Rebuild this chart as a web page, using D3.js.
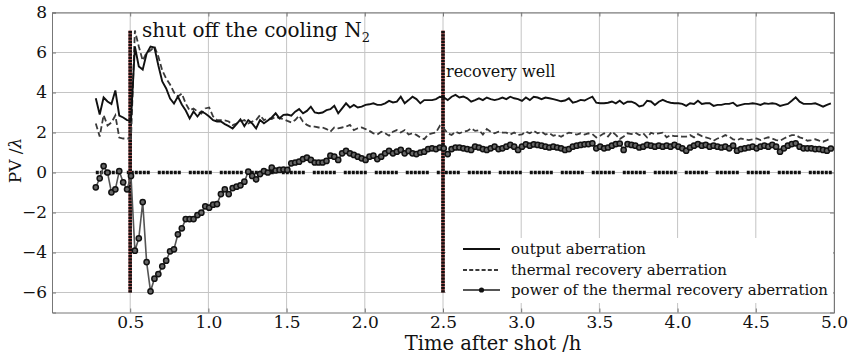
<!DOCTYPE html>
<html><head><meta charset="utf-8">
<script src="https://cdn.jsdelivr.net/npm/d3@7"></script>
<style>body{margin:0;background:#fff}svg{display:block}text{font-family:"DejaVu Serif",serif;fill:#111}</style>
</head><body><div id="chart"></div>
<script>
// sampling: first time (h) and step (h)
const tStart = 0.28, tStep = 0.025;
const outputAberration = [3.71,2.9,3.75,3.55,3.42,4.1,2.85,2.75,2.62,2.6,
6.3,5.3,5.15,5.95,6.3,6.25,5.35,4.55,4.2,3.7,3.45,3.8,3.4,3.1,2.7,3.05,2.8,3.05,2.95,2.8,
2.62,2.55,2.55,2.42,2.32,2.2,2.42,2.66,2.32,2.62,2.45,2.2,2.62,2.46,2.6,2.75,2.96,2.71,2.88,2.9,
2.84,3.04,3.17,2.96,3.08,3.29,3.0,2.96,3.0,3.12,3.17,3.34,2.96,3.21,3.46,3.25,3.38,3.25,3.29,3.38,
3.41,3.46,3.38,3.38,3.46,3.58,3.5,3.54,3.79,3.46,3.62,3.79,3.67,3.46,3.62,3.62,3.62,3.67,3.79,3.75,
3.62,3.79,3.88,3.75,3.8,3.71,3.54,3.62,3.71,3.62,3.75,3.67,3.62,3.67,3.75,3.67,3.79,3.71,3.67,3.58,
3.75,3.62,3.79,3.75,3.67,3.75,3.71,3.67,3.62,3.56,3.6,3.71,3.49,3.54,3.63,3.6,3.7,3.79,3.49,3.46,
3.46,3.49,3.55,3.46,3.59,3.43,3.54,3.54,3.46,3.3,3.35,3.59,3.55,3.38,3.54,3.63,3.54,3.49,3.46,3.46,
3.43,3.33,3.46,3.43,3.59,3.43,3.46,3.46,3.33,3.38,3.38,3.43,3.43,3.49,3.33,3.38,3.43,3.43,3.46,3.43,
3.38,3.46,3.43,3.46,3.43,3.33,3.38,3.43,3.59,3.76,3.54,3.43,3.43,3.43,3.46,3.38,3.29,3.38,3.46];
const thermalRecovery = [2.45,1.8,2.87,2.35,2.5,2.85,1.75,1.7,1.7,1.7,
7.1,6.3,5.6,6.0,6.1,6.3,5.8,5.1,4.7,4.4,4.0,3.8,3.95,3.45,3.1,3.2,3.05,2.95,3.2,3.25,
2.8,2.62,2.62,2.6,2.55,2.37,2.45,2.55,2.62,2.45,2.55,2.62,2.87,2.62,2.7,2.67,2.79,2.71,2.67,2.58,
2.5,2.62,2.84,2.54,2.38,2.29,2.29,2.25,2.25,2.17,2.04,2.25,2.21,2.25,2.29,2.38,2.12,2.21,2.25,2.17,
2.08,1.96,1.9,2.04,1.96,1.84,2.04,2.12,2.0,2.12,1.9,1.96,1.88,1.75,1.67,1.9,1.96,2.0,2.34,2.21,
1.96,1.88,2.04,1.96,2.04,2.08,2.21,2.08,2.12,1.9,2.17,2.04,1.96,2.04,2.0,1.99,1.9,2.0,1.88,1.9,
2.04,1.96,2.08,1.96,2.04,1.9,1.96,1.84,1.88,1.79,1.9,1.99,1.96,1.9,1.96,1.9,1.96,1.92,1.75,1.84,
1.96,1.8,2.04,1.88,1.67,1.8,1.96,1.92,1.99,1.87,1.96,1.75,1.99,1.92,1.96,1.99,1.76,1.87,1.82,1.82,
1.79,1.79,1.87,1.76,1.92,1.82,1.76,1.7,1.59,1.7,1.76,1.87,1.79,1.66,1.62,1.7,1.66,1.62,1.66,1.7,
1.62,1.7,1.76,1.7,1.62,1.59,1.7,1.79,1.87,1.87,1.76,1.7,1.59,1.62,1.66,1.59,1.54,1.62,1.71];
const powerRecovery = [-0.74,-0.29,0.32,0.0,-0.99,-0.84,0.07,-0.49,-0.84,-0.17,
-3.91,-3.29,-1.48,-4.48,-5.94,-5.31,-5.08,-4.69,-4.41,-3.94,-3.84,-3.09,-2.79,-2.33,-2.33,-2.33,-2.13,-2.01,-1.69,-1.76,
-1.61,-1.58,-1.08,-0.84,-1.08,-0.78,-0.71,-0.64,-0.46,0.04,-0.17,-0.34,-0.08,0.07,0.0,0.24,0.1,0.13,0.15,0.13,
0.46,0.5,0.54,0.67,0.74,0.63,0.5,0.5,0.5,0.58,0.84,0.79,0.63,0.96,1.08,0.96,0.88,0.79,0.71,0.63,
0.79,0.84,0.67,0.79,0.96,1.08,0.96,1.04,1.13,0.96,1.08,0.96,0.92,1.0,1.04,1.17,1.21,1.17,1.25,1.21,
0.92,1.17,1.25,1.25,1.21,1.17,1.13,1.29,1.25,1.17,1.13,1.21,1.29,1.17,1.21,1.29,1.38,1.29,1.13,1.29,
1.41,1.34,1.41,1.38,1.34,1.29,1.25,1.29,1.25,1.21,1.13,1.17,1.29,1.34,1.38,1.41,1.42,1.46,1.21,1.29,
1.21,1.25,1.34,1.42,1.45,1.13,1.42,1.38,1.34,1.25,1.29,1.38,1.34,1.29,1.34,1.29,1.34,1.29,1.38,1.29,
1.21,1.09,1.25,1.34,1.42,1.34,1.38,1.29,1.34,1.29,1.25,1.29,1.21,1.34,1.09,1.17,1.21,1.25,1.29,1.21,
1.29,1.34,1.29,1.38,1.29,1.04,1.21,1.34,1.42,1.46,1.29,1.21,1.21,1.21,1.17,1.17,1.13,1.09,1.2];
const xTicks = [0.5,1.0,1.5,2.0,2.5,3.0,3.5,4.0,4.5,5.0];
const yTicks = [-6,-4,-2,0,2,4,6,8];
const markerTimes = [0.5, 2.5];
const markerRange = [-6, 7.1];
const zeroLine = {from: 0.28, to: 5.0, value: 0};
const seriesNames = ["output aberration","thermal recovery aberration","power of the thermal recovery aberration"];

const W = 853, H = 354;
const m = {l:52, r:19, t:12.5, b:41.5};
const svg = d3.select("#chart").append("svg").attr("width",W).attr("height",H);
const x = d3.scaleLinear().domain([0,5]).range([m.l, W-m.r]);
const y = d3.scaleLinear().domain([-7,8]).range([H-m.b, m.t]);
const times = outputAberration.map((_,i)=> tStart + i*tStep);

// grid
const g = svg.append("g");
g.selectAll(".vg").data(xTicks).join("line").attr("x1",d=>x(d)).attr("x2",d=>x(d))
 .attr("y1",y(-7)).attr("y2",y(8)).attr("stroke","#c4c4c4").attr("stroke-width",1);
g.selectAll(".hg").data(yTicks).join("line").attr("x1",x(0)).attr("x2",x(5))
 .attr("y1",d=>y(d)).attr("y2",d=>y(d)).attr("stroke","#c4c4c4").attr("stroke-width",1);

// axes
const fmt = d => (d<0?"\u2212":"")+Math.abs(d);
svg.append("g").attr("transform",`translate(0,${y(-7)})`)
  .call(d3.axisBottom(x).tickValues(xTicks).tickFormat(d3.format(".1f")).tickSize(-4).tickPadding(3));
svg.append("g").attr("transform",`translate(${x(0)},0)`)
  .call(d3.axisLeft(y).tickValues(yTicks).tickFormat(fmt).tickSize(-4).tickPadding(5));
svg.append("g").attr("transform",`translate(0,${y(8)})`)
  .call(d3.axisTop(x).tickValues(xTicks).tickFormat("").tickSize(-4));
svg.append("g").attr("transform",`translate(${x(5)},0)`)
  .call(d3.axisRight(y).tickValues(yTicks).tickFormat("").tickSize(-4));
svg.selectAll(".domain").attr("stroke","#777");
svg.selectAll(".tick line").attr("stroke","#777");
svg.selectAll(".tick text").attr("font-size",17).attr("font-family","DejaVu Serif").attr("fill","#111");

// legend background
const lg = svg.append("g");
lg.append("rect").attr("x",446).attr("y",238).attr("width",x(5)-447).attr("height",65).attr("fill","#fff");

// zero line
svg.append("line").attr("x1",x(zeroLine.from)).attr("x2",x(zeroLine.to))
 .attr("y1",y(zeroLine.value)).attr("y2",y(zeroLine.value))
 .attr("stroke","#111").attr("stroke-width",3.5).attr("stroke-dasharray","3,1,3,1,3,1,3,1,3,1,3,8");

// markers
markerTimes.forEach(t=>{
  svg.append("line").attr("x1",x(t)).attr("x2",x(t)).attr("y1",y(markerRange[0])).attr("y2",y(markerRange[1]))
   .attr("stroke","#a04a4a").attr("stroke-width",3.5);
  svg.append("line").attr("x1",x(t)).attr("x2",x(t)).attr("y1",y(markerRange[0])).attr("y2",y(markerRange[1]))
   .attr("stroke","#111").attr("stroke-width",3.5).attr("stroke-dasharray","2.2,1");
});

const line = d3.line().x((d,i)=>x(times[i])).y(d=>y(d));
svg.append("path").attr("d",line(thermalRecovery)).attr("fill","none").attr("stroke","#3a3a3a")
 .attr("stroke-width",1.8).attr("stroke-dasharray","6,3");
svg.append("path").attr("d",line(outputAberration)).attr("fill","none").attr("stroke","#111").attr("stroke-width",1.9);
svg.append("path").attr("d",line(powerRecovery)).attr("fill","none").attr("stroke","#555").attr("stroke-width",1.6);
svg.append("g").selectAll("circle").data(powerRecovery).join("circle")
 .attr("cx",(d,i)=>x(times[i])).attr("cy",d=>y(d)).attr("r",2.6)
 .attr("fill","#666").attr("stroke","#111").attr("stroke-width",1.5);

// annotations
const ann = svg.append("text").attr("x",142).attr("y",37).attr("font-size",20);
ann.append("tspan").text("shut off the cooling N");
ann.append("tspan").attr("font-size",13).attr("dy",5).text("2");
svg.append("text").attr("x",446).attr("y",77).attr("font-size",16).text("recovery well");

// axis titles
svg.append("text").attr("x",493).attr("y",350).attr("text-anchor","middle").attr("font-size",19.5).text("Time after shot /h");
const yt = svg.append("text").attr("transform",`translate(21,${y(0.6)}) rotate(-90)`).attr("text-anchor","middle").attr("font-size",17);
yt.append("tspan").text("PV /");
yt.append("tspan").attr("font-style","italic").text("\u03bb");

// legend
const rows = [249,270,290];
lg.append("line").attr("x1",463).attr("x2",500).attr("y1",rows[0]).attr("y2",rows[0]).attr("stroke","#111").attr("stroke-width",1.9);
lg.append("line").attr("x1",463).attr("x2",500).attr("y1",rows[1]).attr("y2",rows[1]).attr("stroke","#3a3a3a").attr("stroke-width",1.8).attr("stroke-dasharray","4,2.2");
lg.append("line").attr("x1",463).attr("x2",500).attr("y1",rows[2]).attr("y2",rows[2]).attr("stroke","#555").attr("stroke-width",1.8);
lg.append("circle").attr("cx",481.5).attr("cy",rows[2]).attr("r",2.6).attr("fill","#111");
lg.selectAll(".lt").data(seriesNames).join("text").attr("x",511).attr("y",(d,i)=>rows[i]+5)
  .attr("font-size",15).text(d=>d);
</script></body></html>
